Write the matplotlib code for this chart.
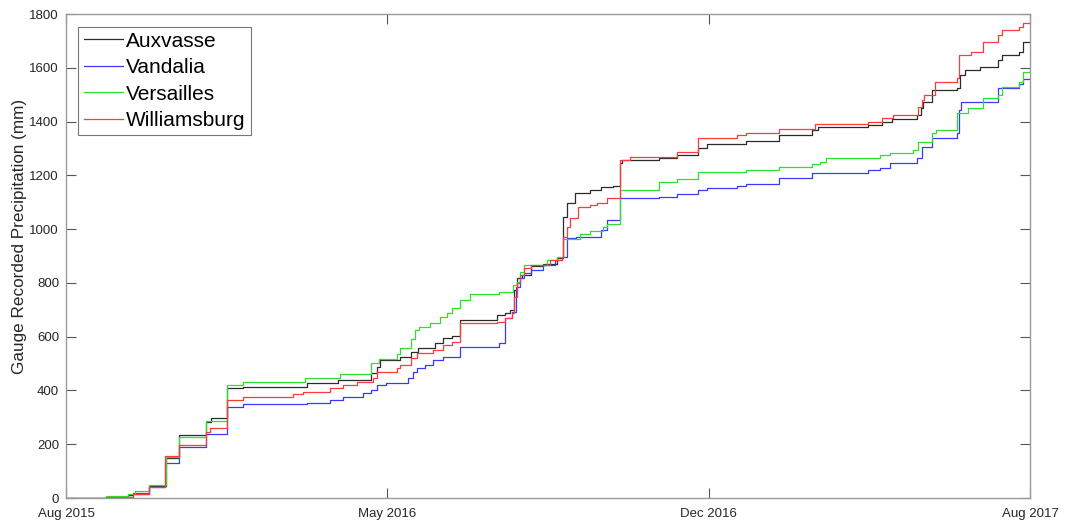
import numpy as np
import pandas as pd
import matplotlib
matplotlib.use('Agg')
import matplotlib.pyplot as plt
import matplotlib.dates as mdates

# cumulative gauge totals, days counted from 2015-08-31 noon
start_date = '2015-08-31 12:00'
span_days = 731

auxvasse_days = [0, 47, 51, 63, 76, 86, 106, 110, 122, 134, 183, 206, 231, 236, 238, 253, 262, 267,
                 280, 286, 293, 299, 327, 333, 337, 340, 342, 346, 353, 362, 372, 377, 380, 386,
                 397, 406, 415, 420, 422, 450, 463, 479, 486, 516, 541, 566, 570, 608, 619, 626,
                 645, 648, 650, 657, 676, 678, 682, 693, 707, 710, 723, 726, 731]
auxvasse_mm = [0, 10, 15, 45, 149, 234, 283, 298, 409, 413, 428, 439, 465, 487, 513, 524, 543, 558,
               576, 595, 602, 662, 681, 688, 699, 773, 818, 829, 863, 870, 893, 1045, 1097, 1134,
               1145, 1157, 1160, 1246, 1257, 1264, 1275, 1302, 1316, 1328, 1350, 1369, 1380, 1387,
               1398, 1408, 1424, 1450, 1473, 1517, 1525, 1573, 1592, 1603, 1629, 1648, 1659, 1696, 1696]

vandalia_days = [0, 30, 51, 63, 75, 86, 106, 122, 134, 183, 200, 210, 225, 231, 236, 243, 259, 263,
                 266, 272, 278, 286, 299, 328, 333, 338, 341, 344, 347, 353, 362, 371, 376, 380,
                 387, 406, 410, 420, 450, 463, 479, 486, 509, 516, 541, 566, 608, 617, 625, 645,
                 649, 657, 676, 677, 679, 707, 723, 726, 731]
vandalia_mm = [0, 5, 18, 41, 130, 190, 238, 338, 350, 353, 364, 376, 390, 402, 420, 428, 446, 469,
               483, 495, 513, 524, 561, 576, 669, 690, 785, 818, 837, 848, 866, 885, 896, 967,
               971, 997, 1034, 1116, 1119, 1131, 1145, 1153, 1160, 1168, 1190, 1209, 1220, 1227,
               1246, 1264, 1305, 1339, 1357, 1443, 1473, 1525, 1540, 1558, 1558]

versailles_days = [0, 30, 47, 52, 63, 76, 86, 106, 122, 134, 181, 208, 231, 237, 251, 253, 262, 265,
                   268, 276, 284, 289, 293, 299, 306, 328, 339, 342, 344, 347, 365, 372, 377, 390,
                   397, 407, 410, 420, 450, 463, 479, 516, 541, 566, 572, 576, 617, 625, 642, 646,
                   657, 660, 676, 684, 695, 707, 710, 723, 726, 731]
versailles_mm = [0, 8, 15, 27, 48, 153, 227, 286, 420, 430, 446, 461, 502, 517, 535, 558, 591, 625,
                 636, 650, 673, 688, 706, 736, 759, 766, 792, 803, 840, 866, 885, 896, 963, 982,
                 993, 1008, 1019, 1145, 1175, 1186, 1212, 1220, 1231, 1242, 1250, 1264, 1275, 1283,
                 1294, 1324, 1357, 1369, 1432, 1450, 1488, 1499, 1528, 1547, 1584, 1588]

williamsburg_days = [0, 30, 51, 63, 75, 86, 106, 109, 122, 134, 172, 180, 200, 210, 221, 233, 236,
                     251, 253, 262, 266, 278, 286, 293, 299, 327, 333, 338, 340, 342, 344, 347, 353,
                     367, 376, 377, 380, 382, 388, 397, 403, 410, 420, 428, 463, 479, 509, 516, 541,
                     568, 608, 619, 627, 646, 649, 651, 659, 676, 677, 686, 695, 707, 710, 723, 726, 731]
williamsburg_mm = [0, 5, 15, 41, 156, 197, 245, 260, 364, 376, 387, 394, 409, 420, 431, 446, 469,
                   483, 495, 520, 539, 550, 569, 580, 650, 654, 669, 688, 748, 799, 829, 855, 866,
                   885, 896, 971, 1008, 1041, 1082, 1090, 1097, 1116, 1257, 1268, 1287, 1339, 1350,
                   1357, 1372, 1391, 1398, 1413, 1424, 1454, 1480, 1499, 1547, 1562, 1648, 1659,
                   1696, 1722, 1741, 1752, 1767, 1770]

stations = ['Auxvasse', 'Vandalia', 'Versailles', 'Williamsburg']
series = [(auxvasse_days, auxvasse_mm), (vandalia_days, vandalia_mm),
          (versailles_days, versailles_mm), (williamsburg_days, williamsburg_mm)]
colors = ['#2b2b2b', '#3a3aff', '#2ee02e', '#ff3a3a']

plt.rcParams['font.family'] = ['Liberation Sans', 'DejaVu Sans']

t0 = pd.Timestamp(start_date)

fig = plt.figure(figsize=(10.69, 5.25), dpi=100)
ax = fig.add_axes([0.0617, 0.0514, 0.9018, 0.9219])

for name, (d, v), c in zip(stations, series, colors):
    dates = t0 + pd.to_timedelta(np.array(d), unit='D')
    ax.plot(dates, v, drawstyle='steps-post', color=c, linewidth=0.9, label=name)

ax.set_xlim(t0, t0 + pd.Timedelta(days=span_days))
ax.set_ylim(0, 1800)
ax.set_yticks(np.arange(0, 1801, 200))
xt = [t0 + pd.Timedelta(days=span_days * k / 3) for k in range(4)]
ax.set_xticks(xt)
ax.xaxis.set_major_formatter(mdates.DateFormatter('%b %Y'))

ax.tick_params(direction='in', length=7, width=0.8, color='#555555', labelcolor='#262626',
               labelsize=9.5, top=True, right=True)
ax.tick_params(axis='x', pad=7)
ax.tick_params(axis='y', pad=5)
for s in ax.spines.values():
    s.set_color('#9a9a9a')
    s.set_linewidth(1.0)

ax.set_ylabel('Gauge Recorded Precipitation (mm)', fontsize=12.3, color='#262626', labelpad=2)
ax.yaxis.set_label_coords(-0.04, 0.54)

leg = ax.legend(loc='upper left', fontsize=15, frameon=True, fancybox=False,
                handlelength=1.9, handletextpad=0.15, labelspacing=0.36, borderpad=0.25,
                borderaxespad=0.6)
leg.get_frame().set_edgecolor('#555555')
leg.get_frame().set_linewidth(0.8)

fig.savefig('out.png', dpi=100)
